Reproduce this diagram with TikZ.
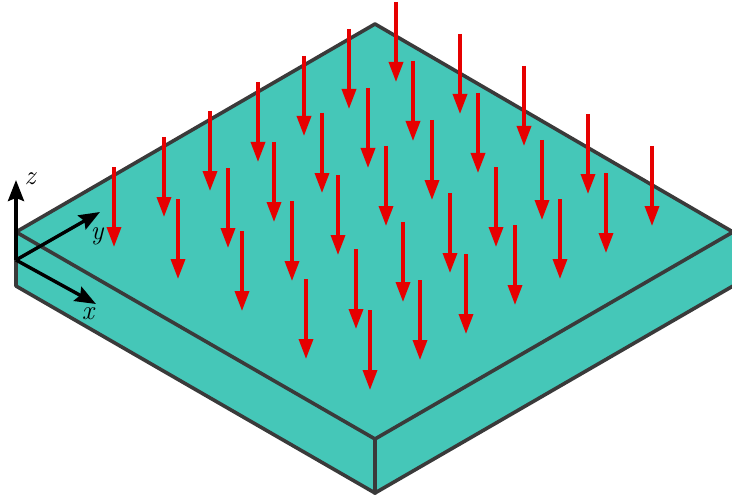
\documentclass[tikz,border=0pt]{standalone}
\usetikzlibrary{arrows.meta}
\definecolor{slab}{HTML}{45C7B8}
\definecolor{edgeline}{HTML}{3A3A3A}
\definecolor{fieldred}{HTML}{E60000}
\tikzset{
  slabedge/.style={draw=edgeline,line width=3.6pt,line join=round,line cap=round},
  fieldarrow/.style={draw=fieldred,line width=3.4pt,-{Triangle[length=20pt,width=14pt]}},
  axisarrow/.style={draw=black,line width=3.4pt,-{Stealth[length=21pt,width=16pt,inset=3pt]}},
  axislabel/.style={inner sep=0pt,font=\fontsize{27}{27}\selectfont\itshape}
}
\begin{document}
\begin{tikzpicture}[x=1pt,y=-1pt]
\useasboundingbox (0,0) rectangle (732,495);
\coordinate (top) at (375,24);
\coordinate (left) at (16,232);
\coordinate (front) at (375,439);
\coordinate (right) at (733,232);
\coordinate (leftb) at (16,286);
\coordinate (frontb) at (375,493);
\coordinate (rightb) at (733,286);
\coordinate (origin) at (16,260);
\fill[slab] (top) -- (right) -- (rightb) -- (frontb) -- (leftb) -- (left) -- cycle;
\draw[slabedge] (right) -- (top) -- (left) -- (leftb) -- (frontb) -- (rightb);
\draw[slabedge] (left) -- (front) -- (right);
\draw[slabedge] (front) -- (frontb);
\foreach \x/\a in {396/2,349/29,460/34,524/66,304/56,413/61,368/88,258/82,478/93,588/114,
  322/113,432/120,274/142,542/140,210/111,652/146,386/146,164/137,228/168,338/175,496/167,
  606/173,114/167,450/193,292/201,178/199,560/199,403/222,515/225,242/231,356/249,466/254,
  306/279,420/280,370/310}{
  \coordinate (s) at (\x,\a);
  \coordinate (e) at (\x,\a+80);
  \draw[fieldarrow] (s) -- (e);
}
\coordinate (zend) at (16,180);
\coordinate (yend) at (100,212);
\coordinate (xend) at (96,304);
\draw[axisarrow] (origin) -- (zend);
\draw[axisarrow] (origin) -- (yend);
\draw[axisarrow] (origin) -- (xend);
\node[axislabel] (zlab) at (30,179) {z};
\node[axislabel] (ylab) at (97,236) {y};
\node[axislabel] (xlab) at (88,314) {x};
\end{tikzpicture}
\end{document}
